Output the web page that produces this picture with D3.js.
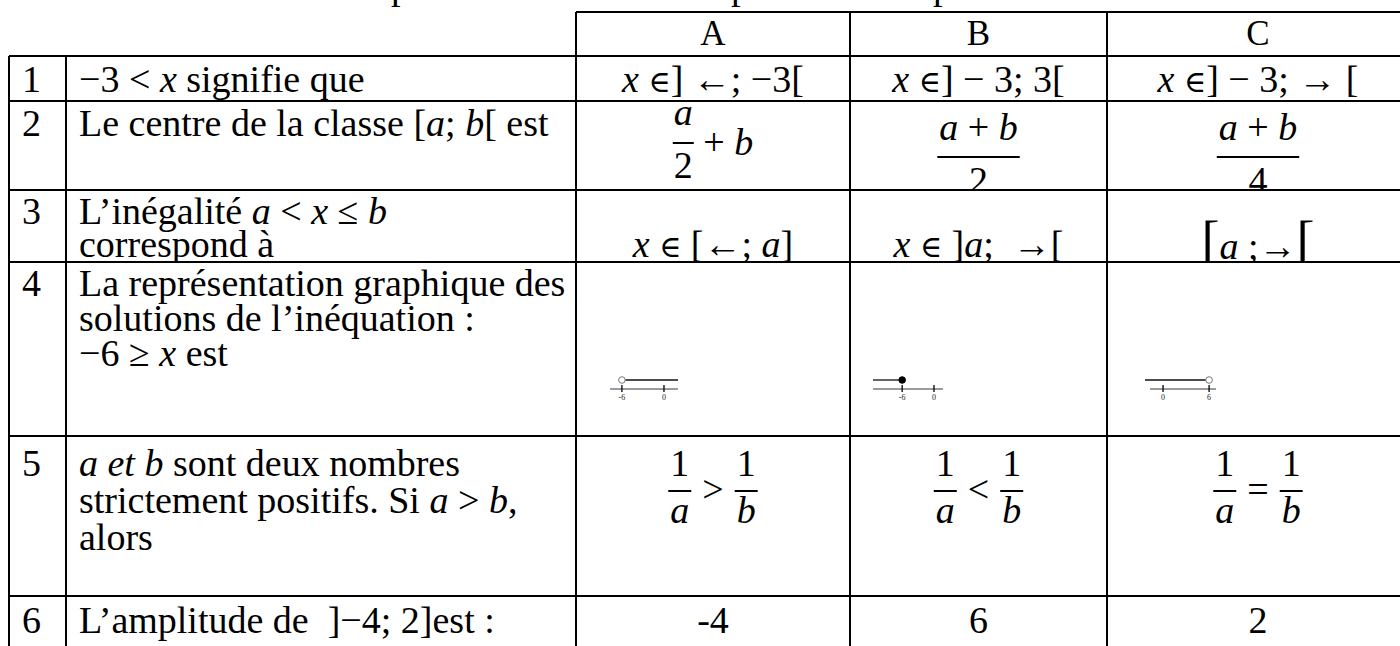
<!DOCTYPE html>
<html>
<head>
<meta charset="utf-8">
<script src="https://cdn.jsdelivr.net/npm/d3@7/dist/d3.min.js"></script>
<style>
  html, body { margin: 0; padding: 0; background: #fff; overflow: hidden; }
  svg { display: block; }
  text { fill: #000; white-space: pre; font-family: "Liberation Serif", "Times New Roman", serif; }
  .it { font-style: italic; }
  .sym { font-family: "DejaVu Serif", serif; font-size: 30px; }
</style>
</head>
<body>
<div id="chart"></div>
<script>
// ---- table content ----
const columns = ['A', 'B', 'C'];
const rowNumbers = ['1', '2', '3', '4', '5', '6'];
// *...* = italic math, {...} = big bracket, ∈ is drawn a bit lighter
const questions = [
  ['−3 < *x* signifie que'],
  ['Le centre de la classe [*a*; *b*[ est'],
  ['L’inégalité *a* < *x* ≤ *b*', 'correspond à'],
  ['La représentation graphique des', 'solutions de l’inéquation :', '−6 ≥ *x* est'],
  ['*a et b* sont deux nombres', 'strictement positifs. Si *a* > *b*,', 'alors'],
  ['L’amplitude de  ]−4; 2]est :']
];
const row1Answers = ['*x* ∈] ←; −3[', '*x* ∈] − 3; 3[', '*x* ∈] − 3; → ['];
const row2Answers = [
  { num: '*a*', den: '2', tail: ' + *b*' },
  { num: '*a* + *b*', den: '2', tail: '' },
  { num: '*a* + *b*', den: '4', tail: '' }
];
const row3Answers = ['*x* ∈ [←; *a*]', '*x* ∈ ]*a*;  →[', '{[}*a* ;→{[}'];
const row4Lines = [
  { ticks: [-6, 0], labels: ['-6', '0'], domain: [-7.7, 2.0], point: -6, closed: false, ray: 'right' },
  { ticks: [-6, 0], labels: ['-6', '0'], domain: [-11.5, 1.7], point: -6, closed: true, ray: 'left' },
  { ticks: [0, 6], labels: ['0', '6'], domain: [-1.7, 6.9], point: 6, closed: false, ray: 'left' }
];
const row5Operators = ['>', '<', '='];
const row5Fractions = [['1', '*a*'], ['1', '*b*']];
const row6Answers = ['-4', '6', '2'];
const topFragments = ['p', 'p', 'p']; // descenders of the cut-off line above

// ---- layout ----
const W = 1400, H = 646;
const colEdges = [8.5, 65.5, 576, 850, 1107, 1409];
const rowEdges = [12, 55.5, 101, 190, 262, 436, 596, 720];
const fontSize = 38;
// baselines of the text lines, per row, measured from the row top
const rowBaselines = [[36], [35], [34, 67], [34, 69, 104], [40, 77, 114], [37]];
const lineOffsets = [34, 23, 43];   // where each pasted number line starts in its cell
const lineWidths = [68, 70, 66];
const topFragmentX = [391, 731, 933];

class QuizTable {
  constructor(selector) {
    this.svg = d3.select(selector).append('svg').attr('width', W).attr('height', H);
    this.colCenter = (c) => {
      const i = columns.indexOf(c) + 2;
      return (colEdges[i] + colEdges[i + 1]) / 2;
    };
    this.rowTop = d3.scaleOrdinal().domain(['head', ...rowNumbers]).range(rowEdges);
  }

  rich(text, str) {
    const parts = str.split(/(\*[^*]+\*|\{[^}]+\}|∈)/).filter((s) => s.length);
    parts.forEach((p) => {
      const t = text.append('tspan');
      if (p[0] === '*') t.attr('class', 'it').text(p.slice(1, -1));
      else if (p[0] === '{') t.attr('font-size', 54).text(p.slice(1, -1));
      else if (p === '∈') t.attr('class', 'sym').text(p);
      else t.text(p);
    });
    return text;
  }

  baseline(r, i = 0) {
    return this.rowTop(r) + rowBaselines[rowNumbers.indexOf(r)][i];
  }

  drawClips() {
    const defs = this.svg.append('defs');
    rowNumbers.forEach((r, i) => {
      defs.append('clipPath').attr('id', `clip-${r}`)
        .append('rect')
        .attr('x', 0).attr('width', W)
        .attr('y', rowEdges[i + 1]).attr('height', rowEdges[i + 2] - rowEdges[i + 1]);
    });
    this.rowG = {};
    rowNumbers.forEach((r) => {
      this.rowG[r] = this.svg.append('g').attr('class', `row row-${r}`).attr('clip-path', `url(#clip-${r})`);
    });
  }

  drawGrid() {
    const g = this.svg.append('g').attr('class', 'grid')
      .attr('stroke', '#000').attr('stroke-width', 2).attr('shape-rendering', 'crispEdges');
    g.append('line').attr('x1', colEdges[2]).attr('x2', W).attr('y1', rowEdges[0]).attr('y2', rowEdges[0]);
    g.selectAll('.h').data(rowEdges.slice(1, 7)).join('line').attr('class', 'h')
      .attr('x1', colEdges[0]).attr('x2', W).attr('y1', (d) => d).attr('y2', (d) => d);
    g.selectAll('.v').data(colEdges.slice(0, 5)).join('line').attr('class', 'v')
      .attr('x1', (d) => d).attr('x2', (d) => d)
      .attr('y1', (d, i) => (i < 2 ? rowEdges[1] : rowEdges[0])).attr('y2', H);
  }

  drawHeader() {
    this.svg.append('g').selectAll('text').data(columns).join('text')
      .attr('x', (d) => this.colCenter(d)).attr('y', 45)
      .attr('text-anchor', 'middle').attr('font-size', 35)
      .text((d) => d);
    this.svg.append('g').selectAll('text').data(topFragments).join('text')
      .attr('x', (d, i) => topFragmentX[i]).attr('y', -1)
      .attr('font-size', fontSize).text((d) => d);
  }

  drawQuestions() {
    rowNumbers.forEach((r, ri) => {
      const g = this.rowG[r];
      g.append('text').attr('x', 22).attr('y', this.baseline(r)).attr('font-size', fontSize).text(r);
      questions[ri].forEach((line, li) => {
        this.rich(g.append('text').attr('x', 79).attr('y', this.baseline(r, li)).attr('font-size', fontSize), line);
      });
    });
  }

  centered(g, col, y, str, size = fontSize) {
    return this.rich(g.append('text').attr('x', this.colCenter(col)).attr('y', y)
      .attr('text-anchor', 'middle').attr('font-size', size), str);
  }

  fraction(g, cx, numY, barY, denY, num, den, barPad = 0) {
    const n = this.rich(g.append('text').attr('x', cx).attr('y', numY).attr('text-anchor', 'middle').attr('font-size', fontSize), num);
    const d = this.rich(g.append('text').attr('x', cx).attr('y', denY).attr('text-anchor', 'middle').attr('font-size', fontSize), den);
    const w = Math.max(n.node().getComputedTextLength(), d.node().getComputedTextLength()) + barPad * 2;
    g.append('line').attr('x1', cx - w / 2).attr('x2', cx + w / 2).attr('y1', barY).attr('y2', barY)
      .attr('stroke', '#000').attr('stroke-width', 2);
    return w;
  }

  measure(g, str) {
    const t = this.rich(g.append('text').attr('font-size', fontSize).attr('visibility', 'hidden'), str);
    const w = t.node().getComputedTextLength();
    t.remove();
    return w;
  }

  drawRow1() {
    columns.forEach((c, i) => this.centered(this.rowG['1'], c, this.baseline('1'), row1Answers[i]));
  }

  drawRow2() {
    const g = this.rowG['2'];
    const top = this.rowTop('2');
    row2Answers.forEach((a, i) => {
      const c = columns[i];
      if (a.tail) {
        const wf = Math.max(this.measure(g, a.num), this.measure(g, a.den)) + 2;
        const wt = this.measure(g, a.tail);
        const x0 = this.colCenter(c) - (wf + wt) / 2;
        this.fraction(g, x0 + wf / 2, top + 24, top + 42, top + 77, a.num, a.den, 1);
        this.rich(g.append('text').attr('x', x0 + wf).attr('y', top + 54).attr('font-size', fontSize), a.tail);
      } else {
        this.fraction(g, this.colCenter(c), top + 39, top + 56, top + 92, a.num, a.den, 2);
      }
    });
  }

  drawRow3() {
    columns.forEach((c, i) => this.centered(this.rowG['3'], c, this.baseline('3', 1) + (i === 2 ? 2 : 0), row3Answers[i]));
  }

  drawRow4() {
    const g = this.rowG['4'];
    const axisY = this.rowTop('4') + 127;
    row4Lines.forEach((nl, i) => {
      const x0 = colEdges[i + 2] + lineOffsets[i];
      const x = d3.scaleLinear().domain(nl.domain).range([x0, x0 + lineWidths[i]]);
      const lg = g.append('g').attr('class', 'numline');
      lg.append('line').attr('x1', x.range()[0]).attr('x2', x.range()[1])
        .attr('y1', axisY).attr('y2', axisY).attr('stroke', '#7a7a7a').attr('stroke-width', 1.6);
      lg.selectAll('.tick').data(nl.ticks).join('line').attr('class', 'tick')
        .attr('x1', (d) => x(d)).attr('x2', (d) => x(d))
        .attr('y1', axisY - 4).attr('y2', axisY + 3).attr('stroke', '#000').attr('stroke-width', 1.3);
      lg.selectAll('.lab').data(nl.ticks).join('text').attr('class', 'lab')
        .attr('x', (d) => x(d)).attr('y', axisY + 11).attr('text-anchor', 'middle')
        .attr('font-family', 'Liberation Sans, Arial, sans-serif').attr('font-size', 8)
        .style('fill', '#222')
        .text((d, j) => nl.labels[j]);
      const rayY = axisY - 9;
      const px = x(nl.point);
      const r = 3.3;
      const rx = nl.ray === 'right' ? [px + r, x.range()[1]] : [x.range()[0] - (i === 2 ? 5 : 0), px - (nl.closed ? 0 : r)];
      lg.append('line').attr('x1', rx[0]).attr('x2', rx[1]).attr('y1', rayY).attr('y2', rayY)
        .attr('stroke', '#111').attr('stroke-width', 1.3);
      lg.append('circle').attr('cx', px).attr('cy', rayY).attr('r', r)
        .attr('fill', nl.closed ? '#000' : '#fff').attr('stroke', nl.closed ? '#000' : '#777').attr('stroke-width', 1);
    });
  }

  drawRow5() {
    const g = this.rowG['5'];
    const top = this.rowTop('5');
    row5Operators.forEach((op, i) => {
      const c = columns[i];
      const wf = 26;
      const opStr = ` ${op} `;
      const wo = this.measure(g, opStr);
      const x0 = this.colCenter(c) - (wf * 2 + wo) / 2;
      this.fraction(g, x0 + wf / 2, top + 40, top + 55, top + 87, row5Fractions[0][0], row5Fractions[0][1], 2);
      g.append('text').attr('x', x0 + wf).attr('y', top + 66).attr('font-size', fontSize).text(opStr);
      this.fraction(g, x0 + wf + wo + wf / 2, top + 40, top + 55, top + 87, row5Fractions[1][0], row5Fractions[1][1], 2);
    });
  }

  drawRow6() {
    columns.forEach((c, i) => this.centered(this.rowG['6'], c, this.baseline('6'), row6Answers[i]));
  }

  draw() {
    this.drawClips();
    this.drawQuestions();
    this.drawRow1();
    this.drawRow2();
    this.drawRow3();
    this.drawRow4();
    this.drawRow5();
    this.drawRow6();
    this.drawHeader();
    this.drawGrid();
    return this;
  }
}

new QuizTable('#chart').draw();
</script>
</body>
</html>
